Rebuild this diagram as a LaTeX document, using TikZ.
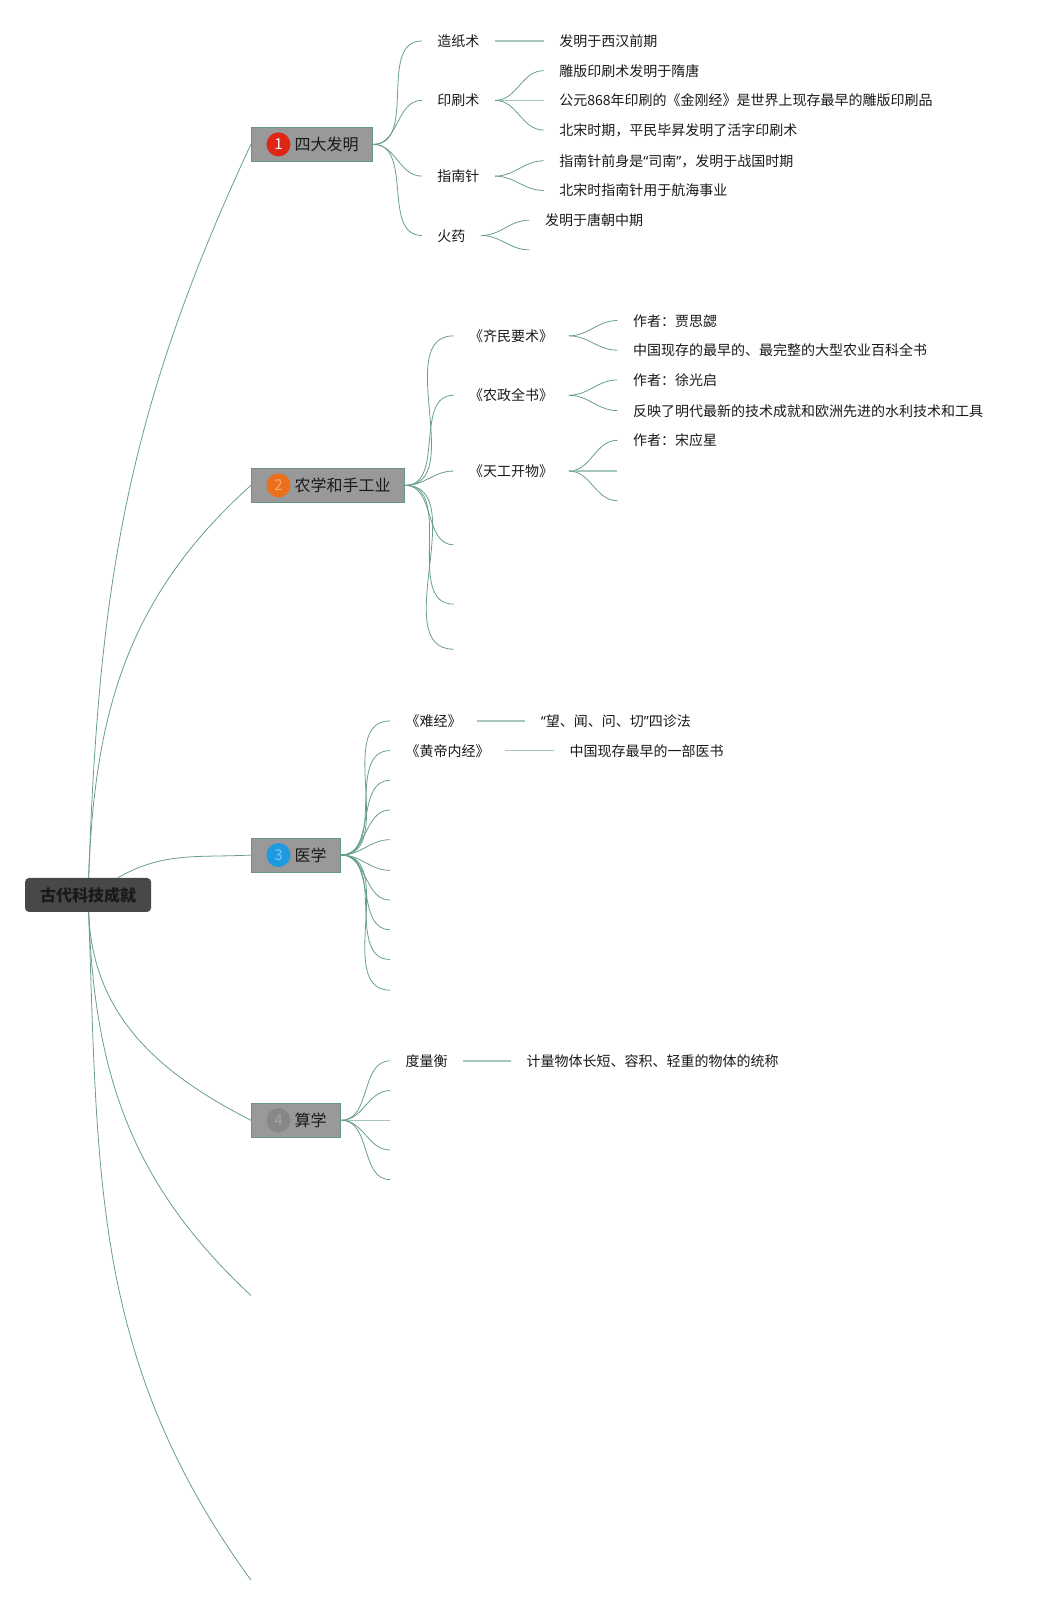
\documentclass[tikz,border=0pt]{standalone}
\usepackage{fontspec}
\setmainfont{Noto Sans CJK SC}
\newfontfamily\quotefont{Noto Sans}
\newcommand{\openq}{{\quotefont “}}
\newcommand{\closeq}{{\quotefont ”}}
\definecolor{linkcol}{RGB}{104,158,138}
\definecolor{flatcol}{RGB}{165,200,188}
\definecolor{rootgray}{RGB}{72,72,72}
\definecolor{boxgray}{RGB}{153,153,153}
\definecolor{boxedge}{RGB}{100,150,130}
\definecolor{inkcol}{RGB}{25,25,25}
\definecolor{badgered}{RGB}{224,38,22}
\definecolor{badgeorange}{RGB}{236,112,28}
\definecolor{badgeblue}{RGB}{30,155,224}
\definecolor{badgegray}{RGB}{135,135,135}
\tikzset{
  link/.style={draw=linkcol, line width=0.8pt},
  flatlink/.style={draw=flatcol, line width=1.5pt},
  rootbox/.style={fill=rootgray, rounded corners=4pt, text=inkcol, inner xsep=15pt, minimum height=34pt,
    font=\fontsize{16}{16}\selectfont\bfseries},
  branchbox/.style={fill=boxgray, draw=boxedge, line width=0.8pt, anchor=west, text=inkcol, inner xsep=14.3pt,
    minimum height=34pt, font=\fontsize{16}{16}\selectfont},
  badge/.style={circle, fill=#1, minimum size=24pt, inner sep=0pt, font=\fontsize{15}{15}\selectfont},
  topic/.style={anchor=west, inner xsep=15.4pt, inner ysep=0pt, text height=12pt, text depth=1pt, text=inkcol,
    font=\fontsize{14}{14}\selectfont},
}
\begin{document}
\begin{tikzpicture}[x=1.024pt, y=-1.024pt]
  \useasboundingbox (0,0) rectangle (1018.6,1567.4);

  % root and main branches
  \node[rootbox] (root) at (86,874) {古代科技成就};
  \node[branchbox] (b1) at (245,141) {\hspace*{29pt}四大发明};
  \node[branchbox] (b2) at (245,474) {\hspace*{29pt}农学和手工业};
  \node[branchbox] (b3) at (245,835) {\hspace*{29pt}医学};
  \node[branchbox] (b4) at (245,1094) {\hspace*{29pt}算学};
  \node[badge=badgered, text=white] at ([xshift=27.6pt]b1.west) {1};
  \node[badge=badgeorange, text={rgb,255:red,245;green,170;blue,110}] at ([xshift=27.6pt]b2.west) {2};
  \node[badge=badgeblue, text={rgb,255:red,120;green,200;blue,245}] at ([xshift=27.6pt]b3.west) {3};
  \node[badge=badgegray, text={rgb,255:red,165;green,165;blue,165}] at ([xshift=27.6pt]b4.west) {4};
  \coordinate (b5) at (245,1265);
  \coordinate (b6) at (245,1543);

  \draw[link] (root) to[out=88, in=245] (b1.west);
  \draw[link] (root) to[out=88, in=222] (b2.west);
  \draw[link] (root) to[out=30, in=183] (b3.west);
  \draw[link] (root) to[out=-88, in=153] (b4.west);
  \draw[link] (root) to[out=-88, in=137] (b5);
  \draw[link] (root) to[out=-88, in=126] (b6);

  % 四大发明
  \node[topic] (c11) at (412,40) {造纸术};
  \node[topic] (c12) at (412,98) {印刷术};
  \node[topic] (c13) at (412,172) {指南针};
  \node[topic] (c14) at (412,230) {火药};
  \node[topic] (g111) at (531,40) {发明于西汉前期};
  \node[topic] (g121) at (531,69) {雕版印刷术发明于隋唐};
  \node[topic] (g122) at (531,98) {公元868年印刷的《金刚经》是世界上现存最早的雕版印刷品};
  \node[topic] (g123) at (531,127) {北宋时期，平民毕昇发明了活字印刷术};
  \node[topic] (g131) at (531,157) {指南针前身是\openq 司南\closeq ，发明于战国时期};
  \node[topic] (g132) at (531,186) {北宋时指南针用于航海事业};
  \node[topic] (g141) at (517,215) {发明于唐朝中期};
  \coordinate (g142) at (517,244);

  \draw[link] (b1) to[out=0, in=180] (c11.west);
  \draw[link] (b1) to[out=0, in=180] (c12.west);
  \draw[link] (b1) to[out=0, in=180] (c13.west);
  \draw[link] (b1) to[out=0, in=180] (c14.west);
  \draw[flatlink] (c11.east) -- (g111.west);
  \draw[link] (c12.east) to[out=0, in=180] (g121.west);
  \draw[flatlink] (c12.east) -- (g122.west);
  \draw[link] (c12.east) to[out=0, in=180] (g123.west);
  \draw[link] (c13.east) to[out=0, in=180] (g131.west);
  \draw[link] (c13.east) to[out=0, in=180] (g132.west);
  \draw[link] (c14.east) to[out=0, in=180] (g141.west);
  \draw[link] (c14.east) to[out=0, in=180] (g142);

  % 农学和手工业
  \node[topic] (c21) at (443,328) {《齐民要术》};
  \node[topic] (c22) at (443,386) {《农政全书》};
  \node[topic] (c23) at (443,460) {《天工开物》};
  \coordinate (c24) at (443,532);
  \coordinate (c25) at (443,590);
  \coordinate (c26) at (443,634);
  \node[topic] (g211) at (603,313) {作者：贾思勰};
  \node[topic] (g212) at (603,342) {中国现存的最早的、最完整的大型农业百科全书};
  \node[topic] (g221) at (603,371) {作者：徐光启};
  \node[topic] (g222) at (603,401) {反映了明代最新的技术成就和欧洲先进的水利技术和工具};
  \node[topic] (g231) at (603,430) {作者：宋应星};
  \coordinate (g232) at (603,460);
  \coordinate (g233) at (603,489);

  \draw[link] (b2) to[out=0, in=180] (c21.west);
  \draw[link] (b2) to[out=0, in=180] (c22.west);
  \draw[link] (b2) to[out=0, in=180] (c23.west);
  \draw[link] (b2) to[out=0, in=180] (c24);
  \draw[link] (b2) to[out=0, in=180] (c25);
  \draw[link] (b2) to[out=0, in=180] (c26);
  \draw[link] (c21.east) to[out=0, in=180] (g211.west);
  \draw[link] (c21.east) to[out=0, in=180] (g212.west);
  \draw[link] (c22.east) to[out=0, in=180] (g221.west);
  \draw[link] (c22.east) to[out=0, in=180] (g222.west);
  \draw[link] (c23.east) to[out=0, in=180] (g231.west);
  \draw[flatlink] (c23.east) -- (g232);
  \draw[link] (c23.east) to[out=0, in=180] (g233);

  % 医学
  \node[topic] (c31) at (381,704) {《难经》};
  \node[topic] (c32) at (381,733) {《黄帝内经》};
  \coordinate (c33) at (381,762);
  \coordinate (c34) at (381,791);
  \coordinate (c35) at (381,820);
  \coordinate (c36) at (381,850);
  \coordinate (c37) at (381,879);
  \coordinate (c38) at (381,908);
  \coordinate (c39) at (381,937);
  \coordinate (c310) at (381,967);
  \node[topic] (g311) at (513,704) {\openq 望、闻、问、切\closeq 四诊法};
  \node[topic] (g321) at (541,733) {中国现存最早的一部医书};

  \draw[link] (b3) to[out=0, in=180] (c31.west);
  \draw[link] (b3) to[out=0, in=180] (c32.west);
  \draw[link] (b3) to[out=0, in=180] (c33);
  \draw[link] (b3) to[out=0, in=180] (c34);
  \draw[link] (b3) to[out=0, in=180] (c35);
  \draw[link] (b3) to[out=0, in=180] (c36);
  \draw[link] (b3) to[out=0, in=180] (c37);
  \draw[link] (b3) to[out=0, in=180] (c38);
  \draw[link] (b3) to[out=0, in=180] (c39);
  \draw[link] (b3) to[out=0, in=180] (c310);
  \draw[flatlink] (c31.east) -- (g311.west);
  \draw[flatlink] (c32.east) -- (g321.west);

  % 算学
  \node[topic] (c41) at (381,1036) {度量衡};
  \coordinate (c42) at (381,1065);
  \coordinate (c43) at (381,1094);
  \coordinate (c44) at (381,1123);
  \coordinate (c45) at (381,1152);
  \node[topic] (g411) at (499,1036) {计量物体长短、容积、轻重的物体的统称};

  \draw[link] (b4) to[out=0, in=180] (c41.west);
  \draw[link] (b4) to[out=0, in=180] (c42);
  \draw[flatlink] (b4) -- (c43);
  \draw[link] (b4) to[out=0, in=180] (c44);
  \draw[link] (b4) to[out=0, in=180] (c45);
  \draw[flatlink] (c41.east) -- (g411.west);
\end{tikzpicture}
\end{document}
